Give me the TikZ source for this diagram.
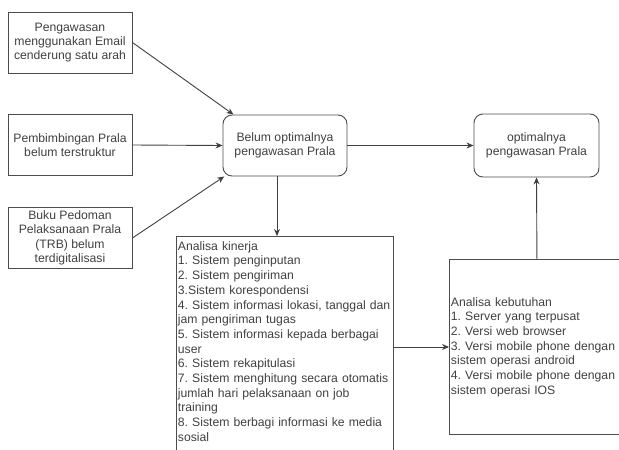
\documentclass[tikz,border=0pt]{standalone}
\usepackage{fontspec}
\setmainfont{Liberation Sans}
\usetikzlibrary{arrows.meta}
\frenchspacing
\hyphenpenalty=10000
\exhyphenpenalty=10000
\tikzset{
  cause/.style={draw=black!70, line width=0.9pt, minimum width=124pt, minimum height=61pt,
    inner sep=2pt, align=center, text=black!75, font=\fontsize{12.2}{14.4}\selectfont},
  state/.style={cause, rounded corners=9pt},
  list/.style={draw=black!70, line width=0.9pt, align=left, inner xsep=1.5pt, inner ysep=5pt,
    text=black!75, font=\fontsize{12.2}{14.7}\selectfont},
  arr/.style={draw=black!75, line width=0.9pt, -{Stealth[length=7pt,width=6pt]}}
}
\begin{document}
\begin{tikzpicture}[x=1pt,y=-1pt]
\useasboundingbox (0,0) rectangle (619,450);
% left column
\node[cause] (email) at (70,42.5) {Pengawasan\\menggunakan Email\\cenderung satu arah};
\node[cause] (bimbing) at (70,145) {Pembimbingan Prala\\belum terstruktur};
\node[cause] (pedoman) at (70,238) {Buku Pedoman\\Pelaksanaan Prala\\(TRB) belum\\terdigitalisasi};
% states
\node[state] (belum) at (285,145.5) {Belum optimalnya\\pengawasan Prala};
\node[state, minimum width=125pt, minimum height=63pt] (optimal) at (536.5,145.5) {optimalnya\\pengawasan Prala};
% analyses (box runs on below the picture)
\node[list, anchor=north west, text width=214pt] (kinerja) at (176,236) {Analisa kinerja\\
1. Sistem penginputan\\
2. Sistem pengiriman\\
3.Sistem korespondensi\\
4. Sistem informasi lokasi, tanggal dan\\
jam pengiriman tugas\\
5. Sistem informasi kepada berbagai\\
user\\
6. Sistem rekapitulasi\\
7. Sistem menghitung secara otomatis\\
jumlah hari pelaksanaan on job\\
training\\
8. Sistem berbagi informasi ke media\\
sosial\rule[-16pt]{0pt}{16pt}};
\node[list, anchor=west, text width=172pt, minimum height=175pt] (kebutuhan) at (449,347) {Analisa kebutuhan\\
1. Server yang terpusat\\
2. Versi web browser\\
3. Versi mobile phone dengan\\
sistem operasi android\\
4. Versi mobile phone dengan\\
sistem operasi IOS};
% connectors
\draw[arr] (email.east) -- (belum.149);
\draw[arr] (bimbing.east) -- (belum.west);
\draw[arr] (pedoman.east) -- (belum.207);
\draw[arr] ([xshift=-8pt]belum.south) -- ([xshift=-8pt]belum.south |- kinerja.north);
\draw[arr] (belum.east) -- (optimal.west);
\draw[arr] (kinerja.east |- kebutuhan.west) -- (kebutuhan.west);
\draw[arr] (kebutuhan.north) -- (optimal.south);
\end{tikzpicture}
\end{document}
